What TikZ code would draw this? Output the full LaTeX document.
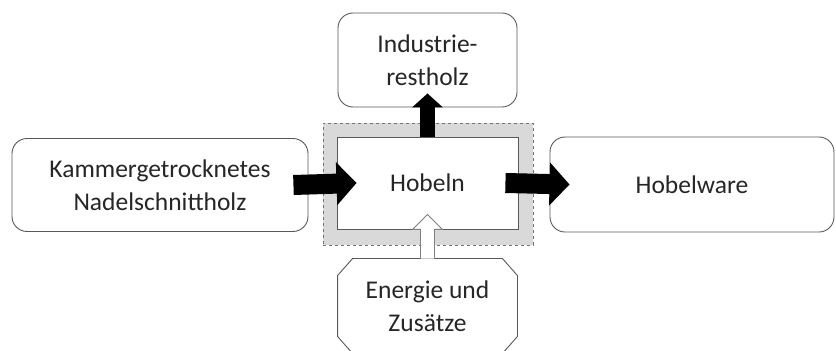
\documentclass[tikz,border=0pt]{standalone}
\usepackage{fontspec}
\setmainfont{Carlito}
\usetikzlibrary{positioning,calc,arrows.meta,backgrounds}

\begin{document}
\begin{tikzpicture}[x=1pt,y=1pt,font=\fontsize{25.5}{33}\selectfont,
  box/.style={draw=black!65,line width=0.9pt,rounded corners=15pt,fill=white,
    inner sep=0pt,align=center,text=black!85},
  flow/.style={line width=20pt,-{Triangle[length=20pt,width=42pt]}},
  hollow/.style={draw=black!50,line width=0.9pt,fill=white}]
\useasboundingbox (0,0) rectangle (836,351);
% frame around the process
\node[draw=black!55,dashed,line width=0.6pt,fill=black!15,minimum width=210pt,minimum height=122pt] (frame) at (428,167) {};
\node[draw=black!65,line width=0.9pt,fill=white,minimum width=181pt,minimum height=92pt,text=black!85] (hobeln) at (427.5,168) {Hobeln};
% boxes
\node[box,minimum width=296pt,minimum height=93pt] (src) at (160,166) {Kammergetrocknetes\\Nadelschnittholz};
\node[box,minimum width=179pt,minimum height=94pt] (rest) at (427.5,291) {Industrie-\\restholz};
\node[box,minimum width=284pt,minimum height=95pt] (ware) at (692,166.5) {Hobelware};
\node[box,draw=none,fill=none,rounded corners=0pt,minimum width=179pt,minimum height=94pt] (energie) at (427.5,45) {Energie und\\Zus\"atze};
\begin{pgfonlayer}{background}
\draw[black!65,line width=0.9pt,fill=white] ($(energie.north west)+(15pt,0)$) -- ($(energie.north east)+(-15pt,0)$)
  -- ($(energie.north east)+(0,-17pt)$) -- ($(energie.south east)+(0,17pt)$)
  -- ($(energie.south east)+(-15pt,0)$) -- ($(energie.south west)+(15pt,0)$)
  -- ($(energie.south west)+(0,17pt)$) -- ($(energie.north west)+(0,-17pt)$) -- cycle;
\end{pgfonlayer}
% arrows
\draw[flow] ($(src.east)+(-15pt,0)$) -- ($(hobeln.west)+(20pt,0)$);
\draw[flow] ($(hobeln.east)+(-13pt,0)$) -- ($(ware.west)+(20pt,0)$);
\draw[line width=15pt,-{Triangle[length=14pt,width=30pt]}] (hobeln.north) -- ($(rest.south)+(0,14pt)$);
\draw[hollow] let \p1=(energie.north), \p2=(hobeln.south) in
  (\x2-7pt,\y1) -- (\x2-7pt,\y2) -- (\x2-15pt,\y2) -- (\x2,\y2+15pt)
  -- (\x2+15pt,\y2) -- (\x2+7pt,\y2) -- (\x2+7pt,\y1);
\end{tikzpicture}
\end{document}
